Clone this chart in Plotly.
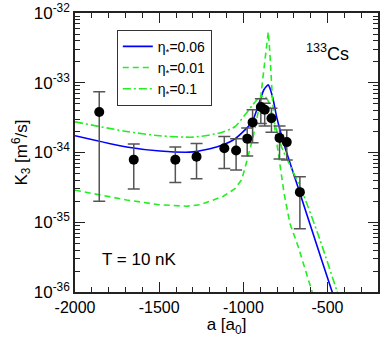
import plotly.graph_objects as go

# measured three-body loss K3 for 133Cs at T = 10 nK
a_data = [-1856, -1651, -1404, -1278, -1113, -1043, -977, -945, -896, -873, -833, -785, -742, -664]
k3_data = [3.8e-34, 7.9e-35, 7.9e-35, 8.7e-35, 1.15e-34, 1.07e-34, 1.58e-34, 2.7e-34,
           4.5e-34, 4.1e-34, 3.1e-34, 1.62e-34, 1.41e-34, 2.7e-35]
k3_hi = [7.4e-34, 1.32e-34, 1.2e-34, 1.35e-34, 1.7e-34, 1.58e-34, 2.24e-34, 4.1e-34,
         5.9e-34, 5.1e-34, 4.3e-34, 2.4e-34, 2.1e-34, 4.5e-35]
k3_lo = [2.0e-35, 3.0e-35, 3.7e-35, 4.2e-35, 5.9e-35, 5.6e-35, 8.9e-35, 1.38e-34,
         2.6e-34, 2.4e-34, 1.95e-34, 8.1e-35, 7.8e-35, 8.1e-36]

# theory curves
a_006 = [-2000, -1693, -1495, -1298, -1159, -1060, -980, -945, -901, -878, -852, -842,
         -822, -802, -753, -664, -585, -476, -400]
k3_006 = [1.74e-34, 1.20e-34, 1.05e-34, 1.02e-34, 1.20e-34, 1.51e-34, 2.24e-34, 2.82e-34,
          5.62e-34, 7.94e-34, 9.33e-34, 8.32e-34, 5.62e-34, 3.24e-34, 1.20e-34, 2.63e-35,
          6.76e-36, 1.07e-36, 3.16e-37]

a_001 = [-2000, -1693, -1500, -1337, -1258, -1121, -1050, -1010, -990, -941, -901, -872,
         -852, -842, -828, -812, -783, -757, -723, -674, -595, -550]
k3_001 = [2.88e-35, 2.09e-35, 1.78e-35, 1.70e-35, 1.78e-35, 2.34e-35, 3.02e-35, 4.07e-35,
          6.03e-35, 1.70e-34, 5.13e-34, 1.91e-33, 5.37e-33, 2.63e-33, 6.31e-34, 2.09e-34,
          7.08e-35, 2.51e-35, 9.55e-36, 4.47e-36, 1.07e-36, 5.01e-37]

a_01 = [-2000, -1693, -1500, -1298, -1139, -1050, -990, -945, -901, -875, -850, -832,
        -802, -773, -733, -644, -545, -446, -400]
k3_01 = [2.75e-34, 2.00e-34, 1.74e-34, 1.66e-34, 1.91e-34, 2.34e-34, 3.47e-34, 4.79e-34,
         6.31e-34, 6.46e-34, 5.37e-34, 3.63e-34, 2.09e-34, 1.20e-34, 7.41e-35, 2.51e-35,
         5.62e-36, 1.07e-36, 5.01e-37]

x_ticks = [-2000, -1500, -1000, -500]
y_decades = [-36, -35, -34, -33, -32]

font = "Liberation Sans, Arial, sans-serif"
green = "#22ee22"

fig = go.Figure()
fig.add_trace(go.Scatter(x=a_006, y=k3_006, mode="lines", name="η<sub>*</sub>=0.06",
                         line=dict(color="#0000ff", width=1.6, shape="spline", smoothing=0.6)))
fig.add_trace(go.Scatter(x=a_001, y=k3_001, mode="lines", name="η<sub>*</sub>=0.01",
                         line=dict(color=green, width=1.6, dash="6px,4px")))
fig.add_trace(go.Scatter(x=a_01, y=k3_01, mode="lines", name="η<sub>*</sub>=0.1",
                         line=dict(color=green, width=1.6, dash="8px,3px,2px,3px",
                                   shape="spline", smoothing=0.6)))
fig.add_trace(go.Scatter(
    x=a_data, y=k3_data, mode="markers", showlegend=False,
    marker=dict(color="black", size=10),
    error_y=dict(type="data", symmetric=False,
                 array=[h - v for h, v in zip(k3_hi, k3_data)],
                 arrayminus=[v - l for v, l in zip(k3_data, k3_lo)],
                 color="#555555", thickness=1.5, width=6)))

minor_y = [m * 10.0 ** d for d in y_decades[:-1] for m in range(2, 10)]

fig.update_layout(
    width=382, height=337,
    margin=dict(l=75, r=4, t=13, b=45),
    paper_bgcolor="white", plot_bgcolor="white",
    font=dict(family=font, size=16, color="black"),
    legend=dict(x=0.138, y=0.94, xanchor="left", yanchor="top",
                bordercolor="#333333", borderwidth=1, bgcolor="white",
                font=dict(size=14), tracegroupgap=0, itemwidth=30),
    xaxis=dict(range=[-2000, -200], showline=True, linecolor="#222222", linewidth=1.5,
               mirror="allticks", ticks="inside", ticklen=10, tickcolor="#222222",
               tickvals=x_ticks, ticktext=[str(v) for v in x_ticks], showgrid=False,
               zeroline=False, tickfont=dict(size=16), automargin=False,
               minor=dict(dtick=100, ticks="inside", ticklen=5, tickcolor="#222222",
                          showgrid=False),
               title=dict(text="a [a<sub>0</sub>]", font=dict(size=17), standoff=4)),
    yaxis=dict(type="log", range=[-36, -32], showline=True, linecolor="#222222",
               linewidth=1.5, mirror="allticks", ticks="inside", ticklen=10,
               tickcolor="#222222", showgrid=False, zeroline=False, automargin=False,
               tickvals=[10.0 ** d for d in y_decades],
               ticktext=["10<sup>%d</sup>" % d for d in y_decades],
               tickfont=dict(size=17),
               minor=dict(tickvals=minor_y, ticks="inside", ticklen=5,
                          tickcolor="#222222", showgrid=False),
               title=dict(text="K<sub>3</sub> [m<sup>6</sup>/s]", font=dict(size=17),
                          standoff=2)),
    annotations=[
        dict(text="<sup>133</sup>Cs", xref="paper", yref="paper", x=0.832, y=0.857,
             xanchor="center", yanchor="middle", showarrow=False, font=dict(size=18)),
        dict(text="T = 10 nK", xref="paper", yref="paper", x=0.213, y=0.115,
             xanchor="center", yanchor="middle", showarrow=False, font=dict(size=17)),
    ],
)

# drop the browser's default body margin so the figure fills the window
fig.write_html("out.html", config={"displayModeBar": False},
               post_script="document.body.style.margin='0px';")
